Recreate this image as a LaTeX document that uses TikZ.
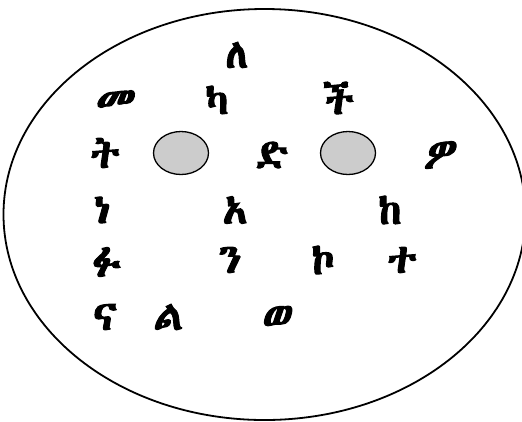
\documentclass[tikz,border=0pt]{standalone}
\usepackage{fontspec}
\usetikzlibrary{shapes.geometric}
\def\ethname{DejaVu Sans}
\IfFontExistsTF{FreeSerif}{\def\ethname{FreeSerif}}{}
\IfFontExistsTF{Abyssinica SIL}{\def\ethname{Abyssinica SIL}}{}
\newfontfamily\ethfont[Script=Ethiopic,FakeBold=2.5]{\ethname}
\newfontfamily\ethslant[Script=Ethiopic,FakeBold=2.5,FakeSlant=0.2]{\ethname}
\definecolor{holegray}{RGB}{204,204,204}
\tikzset{
  letter/.style={font=\ethfont\fontsize{41}{41}\selectfont, inner sep=0pt},
  slletter/.style={font=\ethslant\fontsize{41}{41}\selectfont, inner sep=0pt},
  hole/.style={ellipse, draw=black, line width=1.3bp, fill=holegray, minimum width=55bp, minimum height=43bp, inner sep=0pt},
  outer/.style={ellipse, draw=black, line width=1.8bp, minimum width=522bp, minimum height=411bp, inner sep=0pt}
}
\begin{document}
\begin{tikzpicture}[x=1bp,y=-1bp]
\useasboundingbox (0,0) rectangle (522,421);
\node[outer] (plate) at (264.5,214.5) {};
\node[hole] (h1) at (181,153) {};
\node[hole] (h2) at (348,153) {};
\node[letter] (le) at (237,55) {ለ};
\node[slletter] (me) at (113,102) {መ};
\node[letter] (ka) at (217,100) {ካ};
\node[letter] (chi) at (339,98) {ች};
\node[letter] (ti) at (105,153) {ት};
\node[letter] (di) at (272,155) {ድ};
\node[slletter] (wo) at (438,155) {ዎ};
\node[letter] (ne) at (102,210) {ነ};
\node[letter] (a) at (235,210) {አ};
\node[letter] (ke) at (390,210) {ከ};
\node[letter] (fu) at (107,262) {ፉ};
\node[letter] (n) at (230,260) {ን};
\node[letter] (ko) at (323,260) {ኮ};
\node[letter] (te) at (402,260) {ተ};
\node[letter] (na) at (105,317) {ና};
\node[slletter] (l) at (168,317) {ል};
\node[slletter] (we) at (275,318) {ወ};
\end{tikzpicture}
\end{document}
